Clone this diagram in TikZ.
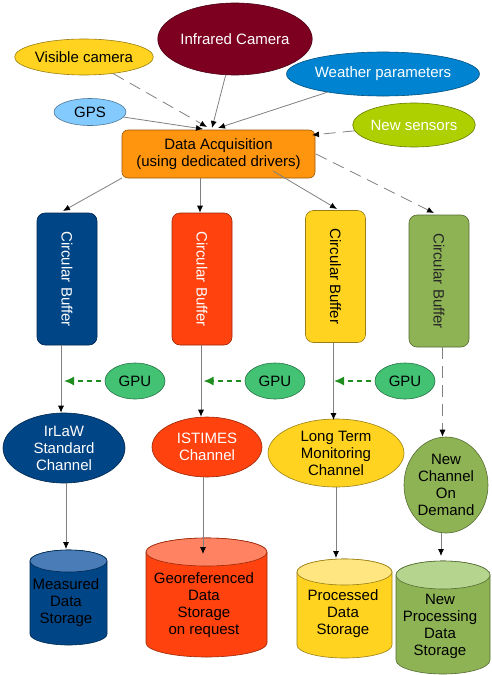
\documentclass[tikz,border=0pt]{standalone}
\usepackage{fontspec}
\setmainfont{Liberation Sans}
\usepackage{graphicx}
\usetikzlibrary{shapes.geometric,arrows.meta}
\definecolor{cInfra}{HTML}{7E0021}
\definecolor{cYel}{HTML}{FFD320}
\definecolor{cWeather}{HTML}{0084D1}
\definecolor{cGPS}{HTML}{83CAFF}
\definecolor{cNew}{HTML}{AECF00}
\definecolor{cDA}{HTML}{FF950E}
\definecolor{cBlue}{HTML}{004586}
\definecolor{cRed}{HTML}{FF420E}
\definecolor{cGreen}{HTML}{8DB354}
\definecolor{cGPU}{HTML}{44C274}
\definecolor{cLine}{HTML}{808080}
\definecolor{cDash}{HTML}{1E8C1E}
\definecolor{tBlue}{HTML}{4A7DB8}
\definecolor{tRed}{HTML}{FF8262}
\definecolor{tYel}{HTML}{FFE680}
\definecolor{tGreen}{HTML}{B5D48E}
\newcommand\mycyl[7]{%
  \pgfmathsetmacro\cylcx{(#1+#2)/2}%
  \pgfmathsetmacro\cylrx{(#2-#1)/2}%
  \filldraw[fill=#6, draw=#6!60!black, line width=.6pt]
    (#1,#3+#5) -- (#1,#4-#5)
    arc[start angle=180, end angle=0, x radius=\cylrx, y radius=#5]
    -- (#2,#3+#5)
    arc[start angle=0, end angle=-180, x radius=\cylrx, y radius=#5] -- cycle;
  \filldraw[fill=#7, draw=#6!60!black, line width=.6pt]
    (\cylcx,#3+#5) ellipse[x radius=\cylrx, y radius=#5];
}
\tikzset{
  every node/.style={font=\fontsize{15}{17}\selectfont, align=center, inner sep=0pt},
  ell/.style 2 args={ellipse, fill=#1, draw=#1!60!black, line width=.6pt, text=#2},
  bufbox/.style 2 args={rectangle, rounded corners=8pt, fill=#1, draw=#1!60!black,
     line width=.6pt, text=#2, minimum width=60pt, minimum height=132pt},
  arr/.style={draw=cLine, line width=.8pt, -{Latex[length=7pt,width=6pt,color=black]}},
  darr/.style={arr, dash pattern=on 12pt off 7pt},
  garr/.style={draw=cDash, line width=1.6pt, dash pattern=on 5pt off 4pt,
     -{Latex[length=10pt,width=9pt]}},
}
\begin{document}
\begin{tikzpicture}[x=1pt,y=-1pt]
\useasboundingbox (0,0) rectangle (491,675);
% sources
\node[ell={cInfra}{white}, minimum width=144pt, minimum height=72pt] (ir) at (235,39) {Infrared Camera};
\node[ell={cYel}{black}, minimum width=134pt, minimum height=36pt] (vis) at (84,57) {Visible camera};
\node[ell={cWeather}{white}, minimum width=160pt, minimum height=44pt] (wea) at (383,74) {Weather parameters};
\node[ell={cGPS}{black}, minimum width=72pt, minimum height=27pt] (gps) at (90,112) {GPS};
\node[ell={cNew}{white}, minimum width=120pt, minimum height=44pt] (nsen) at (414,125) {New sensors};
\node[rectangle, rounded corners=6pt, fill=cDA, draw=cDA!60!black, line width=.6pt,
      minimum width=193pt, minimum height=48pt] (da) at (218.5,154)
      {Data Acquisition\\(using dedicated drivers)};
% arrows into DA
\coordinate (t1) at (207,127);
\coordinate (t2) at (212,128);
\coordinate (t3) at (203,129);
\coordinate (t4) at (218,128);
\coordinate (t5) at (312,135);
\draw[darr] (vis) -- (t1);
\draw[arr] (ir) -- (t2);
\draw[arr] (gps) -- (t3);
\draw[arr] (wea) -- (t4);
\draw[darr] (nsen) -- (t5);
% buffers
\node[bufbox={cBlue}{white}] (b1) at (67,279) {\rotatebox{-90}{Circular Buffer}};
\node[bufbox={cRed}{white}] (b2) at (202,279) {\rotatebox{-90}{Circular Buffer}};
\node[bufbox={cYel}{black}] (b3) at (335.5,276.5) {\rotatebox{-90}{Circular Buffer}};
\node[bufbox={cGreen}{black!85}] (b4) at (439,281) {\rotatebox{-90}{Circular Buffer}};
% DA to buffers
\draw[arr] (122,178) -- (63,211);
\draw[arr] (da.south -| 200,0) -- (b2.north -| 200,0);
\draw[arr] (273,171) -- (337,209);
\draw[darr] (316,154) -- (434,213);
% GPUs
\node[ell={cGPU}{black}, minimum width=60pt, minimum height=36pt] (g1) at (135,381) {GPU};
\node[ell={cGPU}{black}, minimum width=60pt, minimum height=36pt] (g2) at (275,381) {GPU};
\node[ell={cGPU}{black}, minimum width=60pt, minimum height=36pt] (g3) at (405,381) {GPU};
% channels
\node[ell={cBlue}{white}, minimum width=122pt, minimum height=70pt] (c1) at (64,448) {IrLaW\\Standard\\Channel};
\node[ell={cRed}{white}, minimum width=110pt, minimum height=60pt] (c2) at (207,447) {ISTIMES\\Channel};
\node[ell={cYel}{black}, minimum width=136pt, minimum height=68pt] (c3) at (336,453) {Long Term\\Monitoring\\Channel};
\node[ell={cGreen}{black}, minimum width=84pt, minimum height=96pt] (c4) at (446,485) {New\\Channel\\On\\Demand};
% buffers to channels
\draw[arr] (b1.south -| 61,0) -- (c1.north -| 61,0);
\draw[arr] (b2.south -| 201,0) -- (c2.north -| 201,0);
\draw[arr] (b3.south -| 333.5,0) -- (333.5,420);
\draw[darr] (b4.south -| 442.5,0) -- (c4.north -| 442.5,0);
% GPU arrows
\draw[garr] ([xshift=-4pt]g1.west) -- (64,381);
\draw[garr] ([xshift=-4pt]g2.west) -- (203.5,381);
\draw[garr] ([xshift=-4pt]g3.west) -- (334,381);
% cylinders
\mycyl{30}{107}{550}{645}{11}{cBlue}{tBlue}
\mycyl{146}{267}{538}{657}{14}{cRed}{tRed}
\mycyl{297}{392}{559}{658}{13}{cYel}{tYel}
\mycyl{396}{490}{561}{674}{14}{cGreen}{tGreen}
\node[text=black] (s1) at (66,603) {Measured\\Data\\Storage};
\node[text=black] (s2) at (204,605.5) {Georeferenced\\Data\\Storage\\on request};
\node[text=black] (s3) at (343,614) {Processed\\Data\\Storage};
\node[text=black] (s4) at (440,626.5) {New\\Processing\\Data\\Storage};
\coordinate (s1t) at (66,549);
\coordinate (s2t) at (203,554);
\coordinate (s3t) at (336,558);
\coordinate (s4t) at (441,556);
\draw[arr] (c1.south -| 66,0) -- (s1t);
\draw[arr] (c2.south -| 203,0) -- (s2t);
\draw[arr] (c3.south -| 336,0) -- (s3t);
\draw[arr] (c4.south -| 441,0) -- (s4t);
\end{tikzpicture}
\end{document}
